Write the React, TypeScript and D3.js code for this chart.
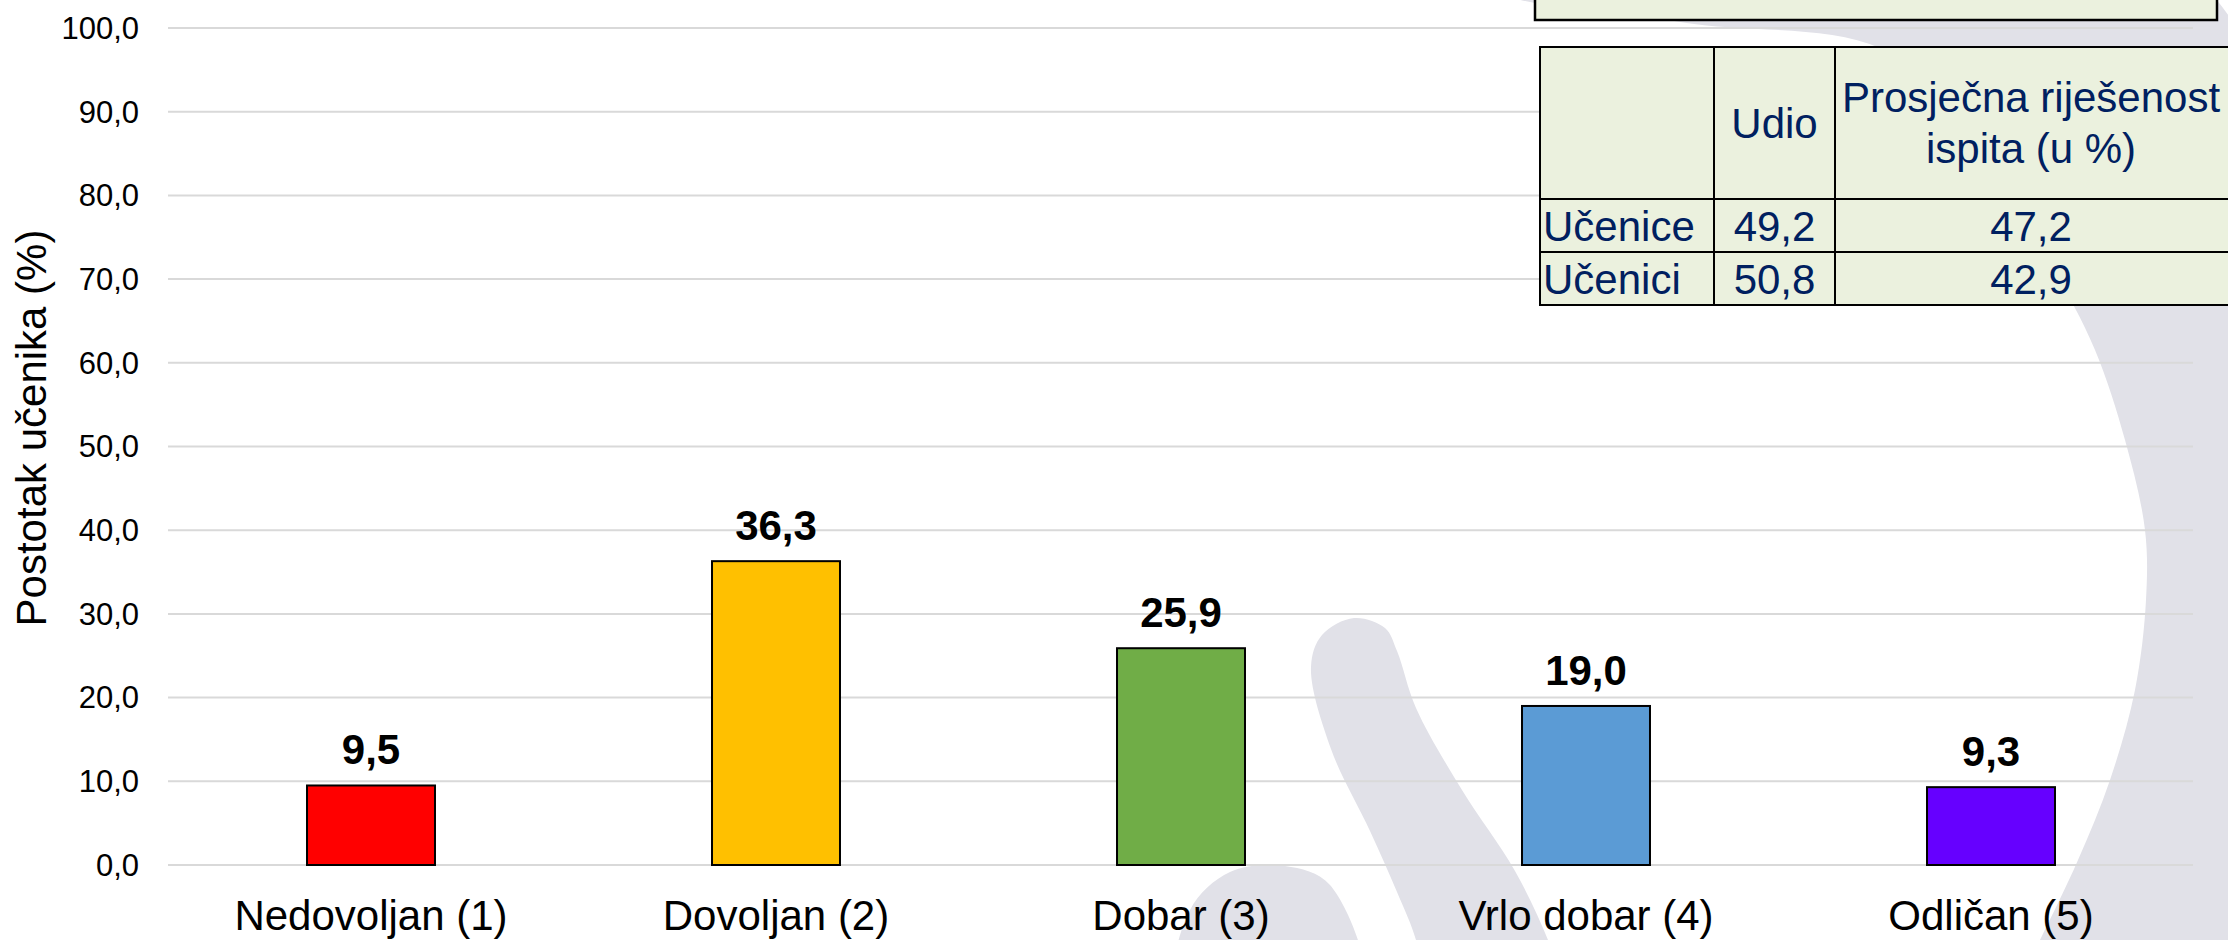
import React from "react";
import * as d3 from "d3";

const categories = ["Nedovoljan (1)", "Dovoljan (2)", "Dobar (3)", "Vrlo dobar (4)", "Odličan (5)"];
const values = [9.5, 36.3, 25.9, 19.0, 9.3];
const barColors = ["#FF0000", "#FFC000", "#70AD47", "#5B9BD5", "#6600FF"];
const yTicks = [0, 10, 20, 30, 40, 50, 60, 70, 80, 90, 100];
const yTitle = "Postotak učenika (%)";

const tableHeader = ["", "Udio", "Prosječna riješenost|ispita (u %)"];
const tableRowLabels = ["Učenice", "Učenici"];
const tableUdio = [49.2, 50.8];
const tableProsjek = [47.2, 42.9];

const W = 2228;
const H = 940;
const FONT = "'Liberation Sans', Arial, sans-serif";

// decorative watermark outlines (background logo)
const wmOuter: [number, number][] = [
  [1480, -20], [1680, 22], [1880, 48], [1990, 140], [2050, 260], [2095, 350], [2125, 440],
  [2145, 530], [2146, 600], [2135, 690], [2110, 780], [2078, 860], [2040, 940], [2010, 1000],
  [2300, 1010], [2340, 700], [2350, 400], [2300, 150], [2150, -60], [1800, -100], [1500, -80],
];
const wmInner: [number, number][] = [
  [1354, 618], [1322, 635], [1311, 667], [1331, 749], [1370, 831], [1397, 892], [1416, 940],
  [1425, 990], [1565, 990], [1548, 940], [1515, 871], [1462, 790], [1416, 708], [1397, 651], [1385, 628],
];
const wmBlob: [number, number][] = [
  [1180, 990], [1190, 910], [1230, 872], [1285, 866], [1330, 885], [1360, 990],
];

const fmt = (v: number) => d3.format(".1f")(v).replace(".", ",");

export default function App() {
  const x = d3.scaleBand<string>().domain(categories).range([168.5, 2193.5]).padding(0);
  const y = d3.scaleLinear().domain([0, 100]).range([865, 28]);
  const barW = x.bandwidth() * 0.316;
  const closed = d3.line().curve(d3.curveCatmullRomClosed.alpha(0.5));

  // table geometry
  const tX = [1540, 1714, 1835, 2229];
  const tY = [47, 199, 252, 305];
  const tColor = "#002060";
  const tFs = 42;

  return (
    <svg
      width={W}
      height={H}
      viewBox={`0 0 ${W} ${H}`}
      style={{ position: "fixed", left: 0, top: 0, background: "#fff" }}
      fontFamily={FONT}
    >
      <rect x={0} y={0} width={W} height={H} fill="#fff" />
      {/* watermark */}
      <g fill="#E1E1E8">
        <path d={closed(wmOuter) || ""} />
        <path d={closed(wmInner) || ""} />
        <path d={closed(wmBlob) || ""} />
      </g>

      {/* gridlines */}
      <g>
        {yTicks.map((t) => (
          <line
            key={t}
            x1={168}
            x2={2193}
            y1={y(t)}
            y2={y(t)}
            stroke="#D9D9D9"
            strokeWidth={2}
          />
        ))}
      </g>

      {/* y tick labels */}
      <g fontSize={31} fill="#000" textAnchor="end">
        {yTicks.map((t) => (
          <text key={t} x={139} y={y(t)} dy="0.35em">
            {fmt(t)}
          </text>
        ))}
      </g>

      {/* y title */}
      <text
        transform={`translate(46, 428) rotate(-90)`}
        textAnchor="middle"
        fontSize={42}
        fill="#000"
      >
        {yTitle}
      </text>

      {/* bars */}
      <g>
        {categories.map((c, i) => {
          const cx = (x(c) as number) + x.bandwidth() / 2;
          return (
            <rect
              key={c}
              x={cx - barW / 2}
              y={y(values[i])}
              width={barW}
              height={y(0) - y(values[i])}
              fill={barColors[i]}
              stroke="#000"
              strokeWidth={2}
            />
          );
        })}
      </g>

      {/* value labels */}
      <g fontSize={42} fontWeight="bold" textAnchor="middle" fill="#000">
        {categories.map((c, i) => {
          const cx = (x(c) as number) + x.bandwidth() / 2;
          return (
            <text key={c} x={cx} y={y(values[i]) - 21}>
              {fmt(values[i])}
            </text>
          );
        })}
      </g>

      {/* x labels */}
      <g fontSize={42} textAnchor="middle" fill="#000">
        {categories.map((c) => (
          <text key={c} x={(x(c) as number) + x.bandwidth() / 2} y={930}>
            {c}
          </text>
        ))}
      </g>

      {/* top box (cut off) */}
      <rect x={1535} y={-20} width={682} height={40} fill="#EBF1DE" stroke="#000" strokeWidth={2.5} />

      {/* table */}
      <g>
        <rect
          x={tX[0]}
          y={tY[0]}
          width={tX[3] - tX[0]}
          height={tY[3] - tY[0]}
          fill="#EBF1DE"
          stroke="#000"
          strokeWidth={2}
        />
        {tX.slice(1, 3).map((xx) => (
          <line key={xx} x1={xx} x2={xx} y1={tY[0]} y2={tY[3]} stroke="#000" strokeWidth={2} />
        ))}
        {tY.slice(1, 3).map((yy) => (
          <line key={yy} x1={tX[0]} x2={tX[3]} y1={yy} y2={yy} stroke="#000" strokeWidth={2} />
        ))}
        <g fontSize={tFs} fill={tColor}>
          <text x={(tX[1] + tX[2]) / 2} y={138} textAnchor="middle">
            {tableHeader[1]}
          </text>
          {tableHeader[2].split("|").map((ln, k) => (
            <text key={k} x={(tX[2] + tX[3]) / 2 - 1} y={112 + k * 51} textAnchor="middle">
              {ln}
            </text>
          ))}
          {tableRowLabels.map((r, i) => (
            <g key={r}>
              <text x={tX[0] + 3} y={tY[i + 1] + 42}>
                {r}
              </text>
              <text x={(tX[1] + tX[2]) / 2} y={tY[i + 1] + 42} textAnchor="middle">
                {fmt(tableUdio[i])}
              </text>
              <text x={(tX[2] + tX[3]) / 2 - 1} y={tY[i + 1] + 42} textAnchor="middle">
                {fmt(tableProsjek[i])}
              </text>
            </g>
          ))}
        </g>
      </g>
    </svg>
  );
}
